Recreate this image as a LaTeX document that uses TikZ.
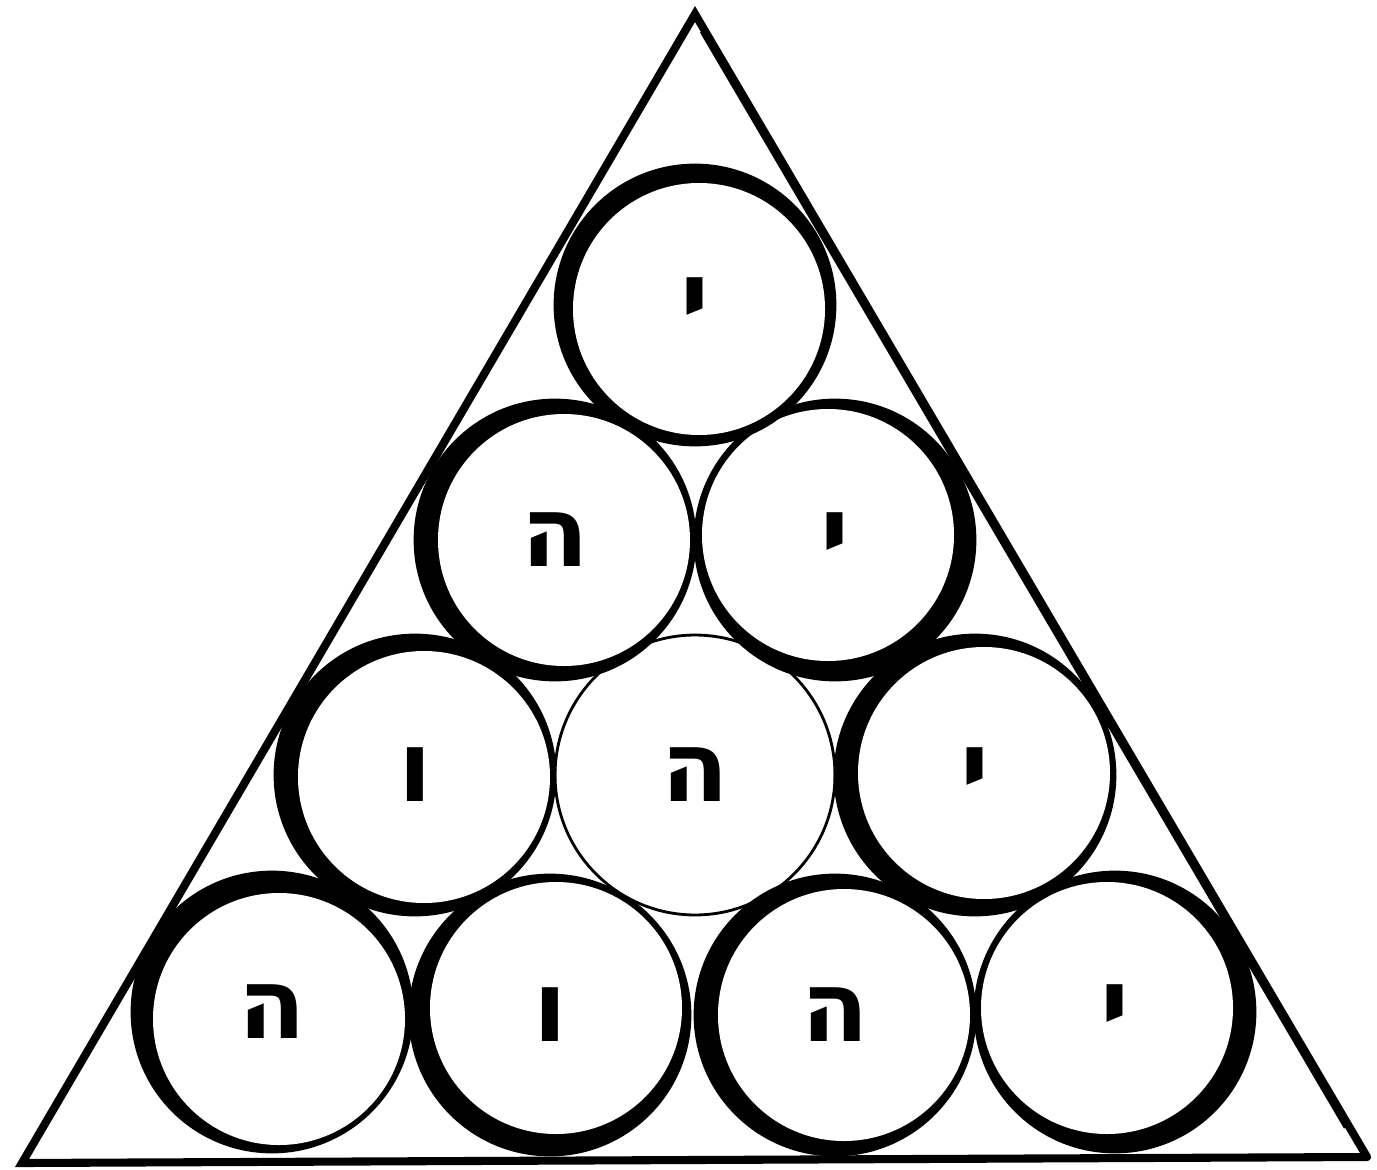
\documentclass[tikz,border=0pt]{standalone}
\usepackage{fontspec}
\newfontfamily\hebfont[Script=Hebrew]{DejaVu Sans}
\TeXXeTstate=1
\begin{document}
\begin{tikzpicture}[x=0.02cm,y=-0.02cm,
  ballrim/.style={circle,draw,line width=1.6pt,minimum size=5.6cm,inner sep=0pt,
    font=\hebfont\bfseries\fontsize{56}{62}\selectfont},
  edge/.style={line width=4.6pt,line join=miter,line cap=round}]
\useasboundingbox (0,0) rectangle (1377,1170);
% dark crescents (fills first)
\foreach \x/\y/\dx/\dy in {
  695/305/4/4, 555/540/9/0, 835/540/-7/-5, 415/775/9/2, 975/775/9/-2,
  272/1012/7/7, 550/1015/6/-7, 835/1015/9/0, 1115/1012/-8/-4}{
  \fill[black] (\x,\y) circle[radius=140];
  \fill[white] (\x+\dx,\y+\dy) circle[radius=126];
}
% circles with letters
\node[ballrim] (c1) at (695,305) {\beginR י\endR};
\node[ballrim] (c2) at (555,540) {\beginR ה\endR};
\node[ballrim] (c3) at (835,540) {\beginR י\endR};
\node[ballrim] (c4) at (415,775) {\beginR ו\endR};
\node[ballrim] (c5) at (695,775) {\beginR ה\endR};
\node[ballrim] (c6) at (975,775) {\beginR י\endR};
\node[ballrim] (c7) at (272,1012) {\beginR ה\endR};
\node[ballrim] (c8) at (550,1015) {\beginR ו\endR};
\node[ballrim] (c9) at (835,1015) {\beginR ה\endR};
\node[ballrim] (c10) at (1115,1012) {\beginR י\endR};
% triangle
\coordinate (A) at (695,14);
\coordinate (B) at (22,1163);
\coordinate (C) at (1367,1157);
\coordinate (Ai) at (701,32);
\coordinate (Ci) at (1345,1128);
\draw[edge] (C) -- (B) -- (A) -- (C);
\draw[line width=1.3pt] (Ai) -- (Ci);
\end{tikzpicture}
\end{document}
